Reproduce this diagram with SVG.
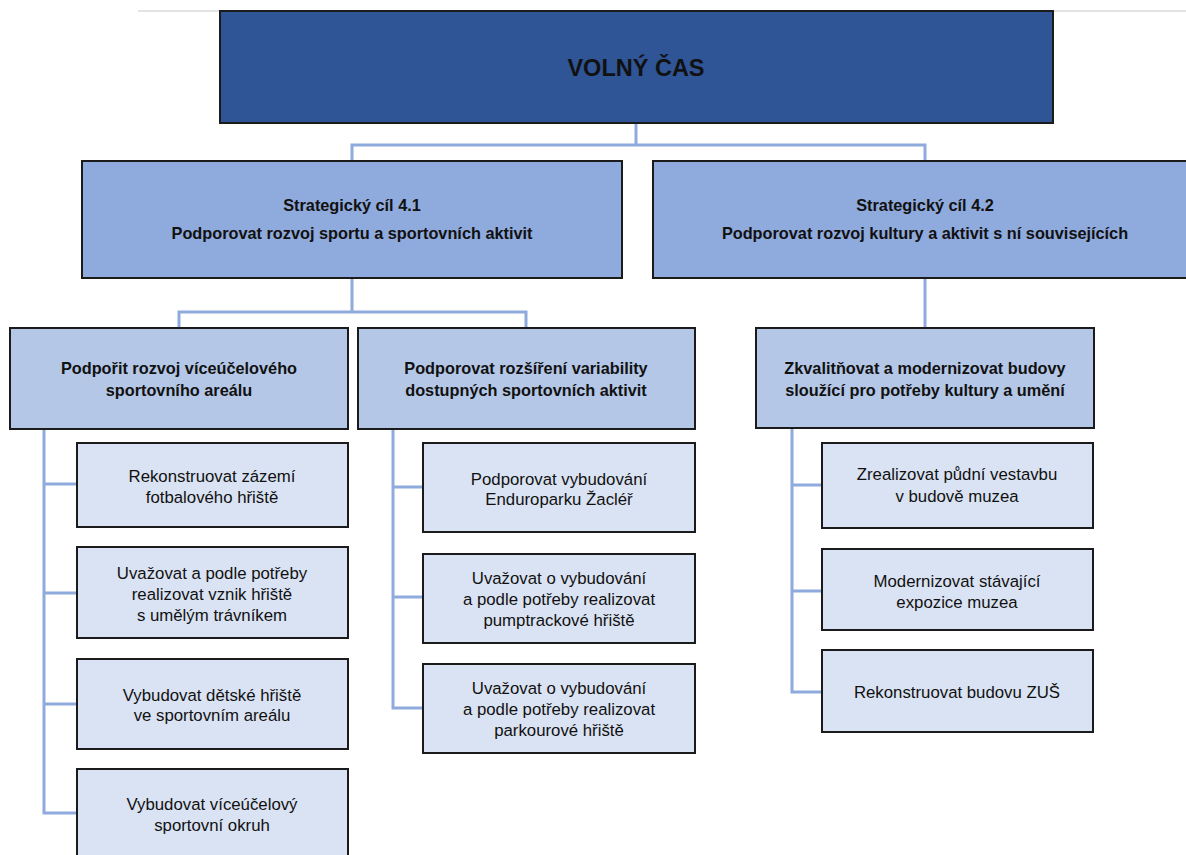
<svg xmlns="http://www.w3.org/2000/svg" width="1186" height="855" viewBox="0 0 1186 855">
<style>
.b{stroke:#1b1b1b;stroke-width:2}
.l0{fill:#2F5597}
.l1{fill:#8FAADC}
.l2{fill:#B4C7E7}
.l3{fill:#DAE3F3}
text{font-family:"Liberation Sans",Arial,sans-serif;fill:#111;text-anchor:middle}
.t0{font-size:23.5px;font-weight:bold}
.t1{font-size:16.3px;font-weight:bold}
.t2{font-size:16.3px;font-weight:bold}
.t3{font-size:16.8px}
.c{fill:none;stroke:#8FAADC;stroke-width:3}
</style>
<line x1="138" y1="11" x2="1186" y2="11" stroke="#c8c8c8" stroke-width="1"/>
<g id="connectors">
<path class="c" d="M636 123V145H352V161M636 145H925V161" stroke-width="4"/>
<path class="c" d="M352 278V312H179V328M352 312H526V328"/>
<path class="c" d="M925 278V328"/>
<path class="c" d="M44 429V813H77M44 484H77M44 593H77M44 704H77"/>
<path class="c" d="M393 429V708H423M393 487H423M393 597H423"/>
<path class="c" d="M792 428V692H822M792 485H822M792 591H822"/>
</g>
<g id="root"><rect class="l0 b" x="220" y="11" width="833" height="112"/><text class="t0" x="636" y="76">VOLNÝ ČAS</text></g>
<g id="sc41"><rect class="l1 b" x="82" y="161" width="540" height="117"/><text class="t1" x="352" y="211">Strategický cíl 4.1</text><text class="t1" x="352" y="239">Podporovat rozvoj sportu a sportovních aktivit</text></g>
<g id="sc42"><rect class="l1 b" x="653" y="161" width="545" height="117"/><text class="t1" x="925" y="211">Strategický cíl 4.2</text><text class="t1" x="925" y="239">Podporovat rozvoj kultury a aktivit s ní souvisejících</text></g>
<g id="m1"><rect class="l2 b" x="10" y="328" width="338" height="101"/><text class="t2" x="179" y="374">Podpořit rozvoj víceúčelového</text><text class="t2" x="179" y="396">sportovního areálu</text></g>
<g id="m2"><rect class="l2 b" x="358" y="328" width="337" height="101"/><text class="t2" x="526" y="374">Podporovat rozšíření variability</text><text class="t2" x="526" y="396">dostupných sportovních aktivit</text></g>
<g id="m3"><rect class="l2 b" x="756" y="328" width="338" height="100"/><text class="t2" x="925" y="374">Zkvalitňovat a modernizovat budovy</text><text class="t2" x="925" y="396">sloužící pro potřeby kultury a umění</text></g>
<g id="a1"><rect class="l3 b" x="77" y="443" width="271" height="84"/><text class="t3" x="212" y="482">Rekonstruovat zázemí</text><text class="t3" x="212" y="503">fotbalového hřiště</text></g>
<g id="a2"><rect class="l3 b" x="77" y="547" width="271" height="91"/><text class="t3" x="212" y="579">Uvažovat a podle potřeby</text><text class="t3" x="212" y="600">realizovat vznik hřiště</text><text class="t3" x="212" y="621">s umělým trávníkem</text></g>
<g id="a3"><rect class="l3 b" x="77" y="659" width="271" height="90"/><text class="t3" x="212" y="701">Vybudovat dětské hřiště</text><text class="t3" x="212" y="721">ve sportovním areálu</text></g>
<g id="a4"><rect class="l3 b" x="77" y="769" width="271" height="100"/><text class="t3" x="212" y="810">Vybudovat víceúčelový</text><text class="t3" x="212" y="831">sportovní okruh</text></g>
<g id="b1"><rect class="l3 b" x="423" y="443" width="272" height="89"/><text class="t3" x="559" y="485">Podporovat vybudování</text><text class="t3" x="559" y="505">Enduroparku Žacléř</text></g>
<g id="b2"><rect class="l3 b" x="423" y="554" width="272" height="89"/><text class="t3" x="559" y="584">Uvažovat o vybudování</text><text class="t3" x="559" y="605">a podle potřeby realizovat</text><text class="t3" x="559" y="626">pumptrackové hřiště</text></g>
<g id="b3"><rect class="l3 b" x="423" y="664" width="272" height="89"/><text class="t3" x="559" y="694">Uvažovat o vybudování</text><text class="t3" x="559" y="715">a podle potřeby realizovat</text><text class="t3" x="559" y="736">parkourové hřiště</text></g>
<g id="c1"><rect class="l3 b" x="822" y="443" width="271" height="85"/><text class="t3" x="957" y="480">Zrealizovat půdní vestavbu</text><text class="t3" x="957" y="502">v budově muzea</text></g>
<g id="c2"><rect class="l3 b" x="822" y="549" width="271" height="81"/><text class="t3" x="957" y="587">Modernizovat stávající</text><text class="t3" x="957" y="608">expozice muzea</text></g>
<g id="c3"><rect class="l3 b" x="822" y="650" width="271" height="82"/><text class="t3" x="957" y="698">Rekonstruovat budovu ZUŠ</text></g>
</svg>
